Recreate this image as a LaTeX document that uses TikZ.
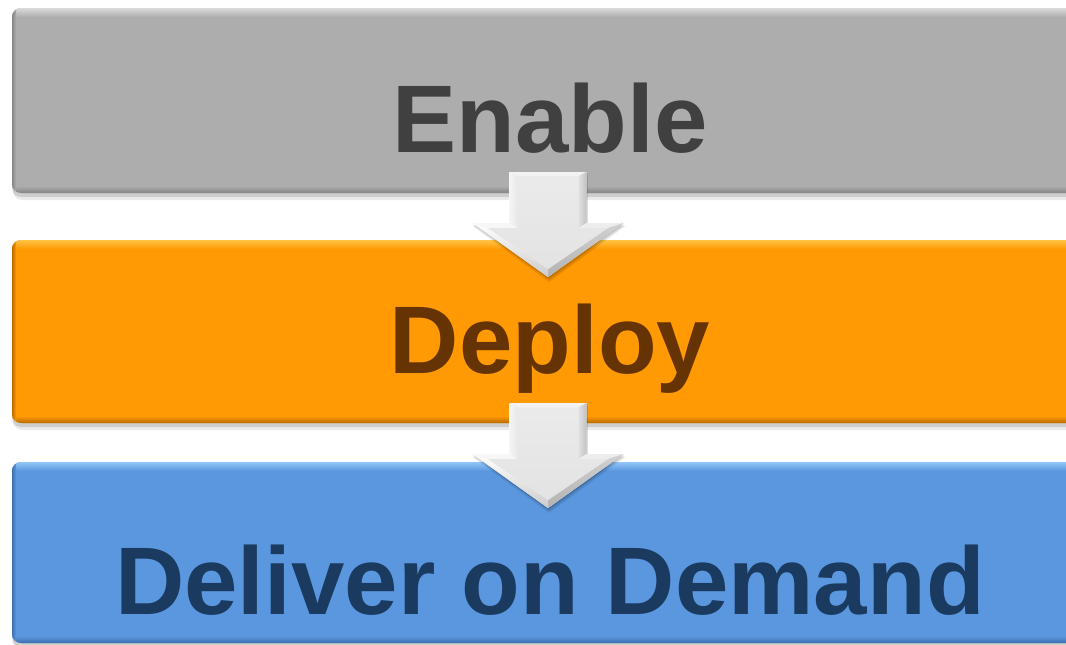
\documentclass[tikz,border=0pt]{standalone}
\usepackage{fontspec}
\setmainfont{Liberation Sans}
\definecolor{grayMain}{HTML}{ADADAD}
\definecolor{grayLight}{HTML}{DADADA}
\definecolor{grayDark}{HTML}{858585}
\definecolor{orMain}{HTML}{FF9904}
\definecolor{orLight}{HTML}{FFC445}
\definecolor{orDark}{HTML}{B86C00}
\definecolor{blMain}{HTML}{5B97DF}
\definecolor{blLight}{HTML}{92C6F7}
\definecolor{blDark}{HTML}{3E6FAE}
\definecolor{txGray}{HTML}{404040}
\definecolor{txBrown}{HTML}{663305}
\definecolor{txBlue}{HTML}{1A3A60}
\newcommand\barfx[4]{%
  \fill[black, opacity=.08, rounded corners=9pt] ([yshift=-2pt,xshift=1pt]#1.north west) rectangle ([yshift=-7pt,xshift=1pt]#1.south east);
  \fill[black, opacity=.12, rounded corners=9pt] ([yshift=-1pt]#1.north west) rectangle ([yshift=-4pt]#1.south east);
  \fill[#2, rounded corners=9pt] (#1.north west) rectangle (#1.south east);
  \begin{scope}
    \clip[rounded corners=9pt] (#1.north west) rectangle (#1.south east);
    \shade[top color=#3, bottom color=#2] (#1.north west) rectangle ([yshift=-9pt]#1.north east);
    \shade[top color=#2, bottom color=#4] ([yshift=7pt]#1.south west) rectangle (#1.south east);
    \shade[left color=#4, right color=#2] (#1.north west) rectangle ([xshift=4pt]#1.south west);
  \end{scope}
}
\tikzset{
  bar/.style={draw=none, minimum width=1100pt, minimum height=#1, inner sep=0pt, outer sep=0pt},
  barlabel/.style={anchor=base, inner sep=0pt, font=\fontsize{96}{96}\selectfont\bfseries},
  arrowshadow/.style={black, opacity=.09},
  bevarrow/.pic={
    \fill[arrowshadow] (-37.5,3) -- (39.5,3) -- (39.5,54) -- (77.5,54) -- (1,110) -- (-75.5,54) -- (-37.5,54) -- cycle;
    \fill[arrowshadow] (-37.5,2) -- (39.5,2) -- (39.5,53) -- (76.5,53) -- (1,108) -- (-74.5,53) -- (-37.5,53) -- cycle;
    \fill[arrowshadow] (-38,1) -- (39,1) -- (39,52) -- (76,52) -- (0.5,106.5) -- (-75,52) -- (-38,52) -- cycle;
    \fill[black!8] (-38.5,0) -- (38.5,0) -- (38.5,51) -- (75.5,51) -- (0,105) -- (-75.5,51) -- (-38.5,51) -- cycle;
    \fill[black!5] (-38.5,0) -- (38.5,0) -- (30.5,4) -- (-30.5,4) -- cycle;
    \shade[left color=black!12, right color=black!24] (38.5,0) -- (38.5,51) -- (30.5,56) -- (30.5,4) -- cycle;
    \fill[black!7] (38.5,51) -- (75.5,51) -- (60,56) -- (30.5,56) -- cycle;
    \shade[top color=black!18, bottom color=black!30] (75.5,51) -- (0,105) -- (0,97) -- (60,56) -- cycle;
    \shade[top color=white, bottom color=black!20] (0,105) -- (-75.5,51) -- (-60,56) -- (0,97) -- cycle;
    \fill[black!3] (-75.5,51) -- (-38.5,51) -- (-30.5,56) -- (-60,56) -- cycle;
    \shade[left color=black!4, right color=black!9] (-38.5,51) -- (-38.5,0) -- (-30.5,4) -- (-30.5,56) -- cycle;
    \shade[top color=black!8, bottom color=black!11] (-30.5,4) -- (30.5,4) -- (30.5,56) -- (60,56) -- (0,97) -- (-60,56) -- (-30.5,56) -- cycle;
  }
}
\begin{document}
\begin{tikzpicture}[x=1pt,y=-1pt]
\useasboundingbox (0,0) rectangle (1066,645);
\clip (0,0) rectangle (1066,645);
\fill[white] (0,0) rectangle (1066,645);
% bars
\path node[bar=185pt] (enable) at (562,100.5) {}
      node[bar=183pt] (deploy) at (562,331.5) {}
      node[bar=181pt] (deliver) at (562,552.5) {};
\barfx{enable}{grayMain}{grayLight}{grayDark}
\barfx{deploy}{orMain}{orLight}{orDark}
\barfx{deliver}{blMain}{blLight}{blDark}
% labels
\node[barlabel, text=txGray] (enabletext) at (550,152) {Enable};
\node[barlabel, text=txBrown] (deploytext) at (550,373) {Deploy};
\node[barlabel, text=txBlue] (delivertext) at (550,614) {Deliver on Demand};
% arrows
\path (enable.south) ++(-14,-21) coordinate (a1);
\path (deploy.south) ++(-14,-20) coordinate (a2);
\pic at (a1) {bevarrow};
\pic at (a2) {bevarrow};
\end{tikzpicture}
\end{document}
